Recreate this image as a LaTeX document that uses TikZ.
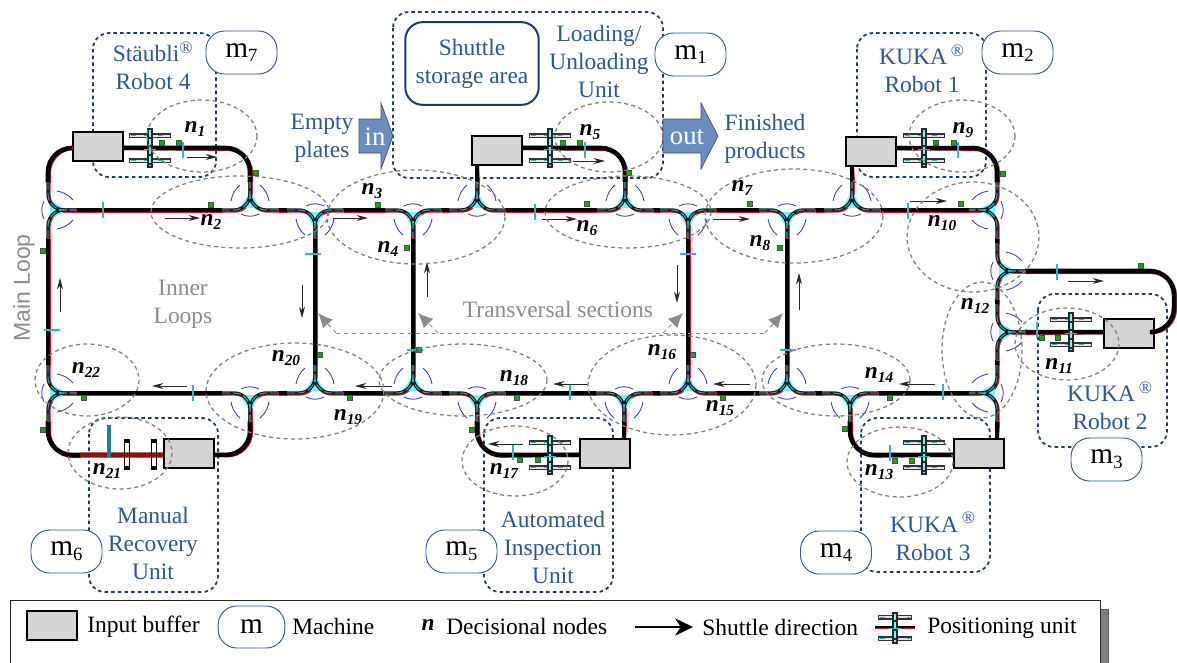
\documentclass[tikz,border=0pt]{standalone}
\usepackage{fontspec}
\setmainfont{Liberation Serif}
\newfontfamily\arialf{Liberation Sans}
\usetikzlibrary{arrows.meta,shapes.geometric}
\definecolor{tblue}{HTML}{2F5597}
\definecolor{dblue}{HTML}{1F3864}
\definecolor{gtext}{HTML}{8C8C8C}
\definecolor{ecol}{HTML}{808080}
\definecolor{arccol}{HTML}{3A3AC8}
\definecolor{greenm}{HTML}{1FA01F}
\definecolor{tealc}{HTML}{2FB5C5}
\definecolor{cyanl}{HTML}{7FF0F5}
\definecolor{railred}{HTML}{C8202A}
\definecolor{darkred}{HTML}{8E0F0F}
\definecolor{bufg}{HTML}{D4D4D4}
\definecolor{flow}{HTML}{6C8EBF}
\newcommand{\txt}{\fontsize{17.6}{21}\selectfont}
\newcommand{\mm}[1]{m\raisebox{-.35ex}{\fontsize{14}{14}\selectfont #1}}
\newcommand{\nn}[1]{{\fontsize{17.5}{17.5}\selectfont\bfseries\itshape n\raisebox{-.4ex}{\fontsize{11.5}{11.5}\selectfont #1}}}
\newcommand{\rg}{\textsuperscript{\fontsize{13}{13}\selectfont ®}}
\tikzset{
 x=0.75pt,y=-0.75pt,
 buf/.style={draw=black,fill=bufg,line width=1.5pt,minimum width=37.5pt,minimum height=21.75pt,inner sep=0pt},
 mach/.style={draw=tblue,fill=white,line width=.7pt,rounded corners=14pt,minimum width=53.25pt,minimum height=32.25pt,inner sep=0pt,font=\fontsize{22}{22}\selectfont},
 unitbox/.style={draw=dblue,line width=1.3pt,dash pattern=on 2.6pt off 2.4pt,rounded corners=12pt},
 ell/.style={draw=ecol,line width=.95pt,dash pattern=on 3pt off 2.5pt},
 blab/.style={text=tblue,align=center,inner sep=0pt,font=\txt},
 glab/.style={text=gtext,align=center,inner sep=0pt,font=\txt},
 klab/.style={text=black,inner sep=0pt,font=\txt},
 nlab/.style={inner sep=0pt,text=black},
 tblack/.style={draw=black,line width=3.4pt,rounded corners=18pt},
 tred/.style={draw=railred,line width=3.2pt,rounded corners=18pt,xshift=.7pt,yshift=-.7pt},
 sdir/.style={draw=black!85,line width=.7pt,-{Stealth[length=8.5pt,width=4.5pt]}},
 trans/.style={draw=gtext,line width=.7pt,dashed,-{Latex[length=11pt,width=10pt]}},
 flowshape/.style={fill=flow,draw=black!70,line width=.5pt},
}
\newcommand{\Tr}[1]{\draw[tred] #1; \draw[tblack] #1;}
\newcommand{\Yj}[3]{%
 \begin{scope}[shift={(#1+0.9,#2+0.9)},rotate=#3]
  \draw[railred,line width=2.6pt,rounded corners=12pt] (-28,0)--(0,0)--(0,28);
  \draw[railred,line width=2.6pt,rounded corners=12pt] (28,0)--(0,0)--(0,28);
 \end{scope}
 \begin{scope}[shift={(#1,#2)},rotate=#3]
  \fill[cyanl] (-10,2)--(10,2)--(0,19)--cycle;
  \draw[black!90,line width=2.5pt,rounded corners=12pt] (-28,0)--(0,0)--(0,28);
  \draw[black!90,line width=2.5pt,rounded corners=12pt] (28,0)--(0,0)--(0,28);
  \draw[tealc,line width=.7pt,dash pattern=on 6pt off 2pt,rounded corners=12pt] (-28,0)--(0,0)--(0,28);
  \draw[tealc,line width=.7pt,dash pattern=on 6pt off 2pt,rounded corners=12pt] (28,0)--(0,0)--(0,28);
  \draw[arccol,line width=.65pt] (-9,-4) .. controls (-3,-7) and (3,-7) .. (9,-4);
  \draw[arccol,line width=.65pt] (-19,9) .. controls (-18,15) and (-15,21) .. (-10,25);
  \draw[arccol,line width=.65pt] (19,9) .. controls (18,15) and (15,21) .. (10,25);
 \end{scope}}
\newcommand{\PU}[4]{% x y half-width half-height
 \foreach \s in {-1,1}{
  \draw[black!80,line width=3.6pt] (#1-#3,#2+\s*12.5)--(#1+#3,#2+\s*12.5);
  \draw[black!10,line width=1.5pt] (#1-#3+1,#2+\s*12.5)--(#1+#3-1,#2+\s*12.5);
  \draw[tealc,line width=.9pt,dash pattern=on 4pt off 6pt] (#1-#3+2,#2+\s*12.5)--(#1+#3-2,#2+\s*12.5);
 }
 \draw[black!85,line width=3.8pt] (#1,#2-#4)--(#1,#2+#4);
 \draw[cyanl,line width=1.5pt,dash pattern=on 5pt off 1.5pt] (#1,#2-#4+2)--(#1,#2+#4-2);
 \draw[tealc,line width=.7pt] (#1-6,#2+1)--(#1+6,#2+1);}
\newcommand{\Gm}[2]{\fill[greenm,draw=black!70,line width=.3pt] (#1-2.5,#2-2.5) rectangle (#1+2.5,#2+2.5);}
\newcommand{\Tv}[2]{\draw[tealc,line width=1.1pt] (#1,#2-8)--(#1,#2+8);}
\newcommand{\Th}[2]{\draw[tealc,line width=1.1pt] (#1-8,#2)--(#1+8,#2);}
\newcommand{\El}[4]{\draw[ell] (#1,#2) ellipse [x radius=#3,y radius=#4];}
\newcommand{\Sd}[4]{\draw[sdir] (#1,#2)--(#3,#4);}
\newcommand{\Ub}[4]{\draw[unitbox] (#1,#2) rectangle (#3,#4);}
\begin{document}
\begin{tikzpicture}
\useasboundingbox (0,0) rectangle (1177,662);
\clip (0,0) rectangle (1177,662);
\fill[white] (0,0) rectangle (1177,662);
% unit boxes
\Ub{93}{33}{216}{177}
\Ub{393}{12}{663}{178}
\Ub{857}{33}{986}{177}
\Ub{1038}{294}{1167}{447}
\Ub{861}{418}{990}{572}
\Ub{484}{418}{613}{592}
\Ub{89}{418}{218}{592}
% flow arrows
\filldraw[flowshape] (359,119)--(381,119)--(381,103)--(393,136)--(381,169)--(381,153)--(359,153)--cycle;
\filldraw[flowshape] (663,119)--(701,119)--(701,103)--(718,136)--(701,169)--(701,153)--(663,153)--cycle;
\node[text=white,inner sep=0pt,font=\fontsize{20}{20}\selectfont] (inlab) at (375,137) {in};
\node[text=white,inner sep=0pt,font=\fontsize{20}{20}\selectfont] (outlab) at (687,137) {out};
% buffers
\node[buf] (b7) at (97.5,146.5) {};
\node[buf] (b1) at (497,150.5) {};
\node[buf] (b2) at (871,151.5) {};
\node[buf] (b3) at (1129,333.5) {};
\node[buf] (b4) at (979,453.5) {};
\node[buf] (b5) at (605,453.5) {};
\node[buf] (b6) at (189,453.5) {};
% tracks: straight runs
\Tr{(76,210)--(222,210)}
\Tr{(278,210)--(287,210)}
\Tr{(343,210)--(385,210)}
\Tr{(441,210)--(449,210)}
\Tr{(505,210)--(597,210)}
\Tr{(653,210)--(660,210)}
\Tr{(716,210)--(759,210)}
\Tr{(815,210)--(824,210)}
\Tr{(880,210)--(969,210)}
\Tr{(76,393)--(222,393)}
\Tr{(278,393)--(287,393)}
\Tr{(343,393)--(385,393)}
\Tr{(441,393)--(449,393)}
\Tr{(505,393)--(596,393)}
\Tr{(652,393)--(660,393)}
\Tr{(716,393)--(759,393)}
\Tr{(815,393)--(822,393)}
\Tr{(878,393)--(969,393)}
\Tr{(48,238)--(48,365)}
\Tr{(315,238)--(315,365)}
\Tr{(413,238)--(413,365)}
\Tr{(688,238)--(688,365)}
\Tr{(787,238)--(787,365)}
\Tr{(997,238)--(997,243)}
\Tr{(997,299)--(997,304)}
\Tr{(997,360)--(997,365)}
% tracks: loops from the buffers
\Tr{([yshift=-1.1pt]b7.east)--(250,148)--(250,182)}
\Tr{([yshift=-1.1pt]b7.west)--(48,148)--(48,182)}
\Tr{([yshift=1.9pt]b1.east)--(625,148)--(625,182)}
\Tr{([xshift=-15pt]b1.south)--(477,182)}
\Tr{([yshift=2.6pt]b2.east)--(997,148)--(997,182)}
\Tr{([xshift=-14.25pt]b2.south)--(852,182)}
\Tr{([yshift=1pt]b3.west)--(1025,332)}
\Tr{([yshift=1pt]b3.east)--(1174,332)--(1174,271)--(1025,271)}
\Tr{([yshift=-1pt]b4.west)--(850,455)--(850,421)}
\Tr{([xshift=13.5pt]b4.north)--(997,421)}
\Tr{([yshift=-1pt]b5.west)--(477,455)--(477,421)}
\Tr{([xshift=14.25pt]b5.north)--(624,421)}
\Tr{([yshift=-1pt]b6.east)--(250,455)--(250,421)}
\Tr{(80,455)--(48,455)--(48,421)}
\draw[darkred,line width=3.8pt] (80,455)--([yshift=-1.1pt]b6.west);
% junctions
\Yj{48}{210}{90}
\Yj{48}{393}{90}
\Yj{250}{210}{180}
\Yj{477}{210}{180}
\Yj{625}{210}{180}
\Yj{852}{210}{180}
\Yj{315}{210}{0}
\Yj{413}{210}{0}
\Yj{688}{210}{0}
\Yj{787}{210}{0}
\Yj{997}{210}{-90}
\Yj{997}{271}{90}
\Yj{997}{332}{90}
\Yj{997}{393}{-90}
\Yj{315}{393}{180}
\Yj{413}{393}{180}
\Yj{688}{393}{180}
\Yj{787}{393}{180}
\Yj{250}{393}{0}
\Yj{477}{393}{0}
\Yj{624}{393}{0}
\Yj{850}{393}{0}
% positioning units
\PU{150}{148}{21}{20}
\PU{550}{148}{21}{20}
\PU{924}{148}{21}{20}
\PU{1071}{332}{21}{20}
\PU{924}{455}{21}{20}
\PU{550}{455}{21}{20}
% manual unit
\draw[tealc!70!black,line width=2.6pt] (109,425)--(109,458);
\foreach \q in {127,154}{
 \draw[black,line width=.8pt] (\q-2.5,441) rectangle (\q+2.5,468);
 \fill[black] (\q-3,439) rectangle (\q+3,443);
 \fill[black] (\q-3,466) rectangle (\q+3,470);
}
% ticks
\Tv{103}{210} \Tv{183}{150} \Tv{585}{150} \Tv{535}{212} \Tv{958}{150} \Tv{908}{211}
\Tv{1057}{272} \Tv{1037}{330} \Tv{943}{392} \Tv{193}{393} \Tv{570}{392} \Tv{890}{453} \Tv{513}{452}
\Th{52}{330} \Th{313}{254} \Th{688}{254} \Th{788}{350} \Th{415}{350}
% green markers
\Gm{162}{143} \Gm{179}{143} \Gm{211}{205} \Gm{256}{173} \Gm{378}{205} \Gm{407}{248}
\Gm{563}{143} \Gm{580}{143} \Gm{587}{204} \Gm{629}{173} \Gm{750}{204}
\Gm{936}{143} \Gm{954}{143} \Gm{780}{248} \Gm{961}{204} \Gm{1003}{174}
\Gm{1141}{266} \Gm{1042}{338} \Gm{1058}{338} \Gm{890}{398} \Gm{895}{461} \Gm{912}{461}
\Gm{845}{429} \Gm{419}{350} \Gm{517}{398} \Gm{472}{430} \Gm{520}{460} \Gm{538}{460}
\Gm{693}{355} \Gm{723}{398} \Gm{84}{398} \Gm{350}{398} \Gm{43}{430} \Gm{320}{355} \Gm{43}{251}
% shuttle directions
\Sd{187}{157}{217}{157} \Sd{165}{218}{200}{218} \Sd{333}{218}{368}{218} \Sd{573}{161}{605}{161}
\Sd{542}{219}{577}{219} \Sd{713}{219}{750}{219} \Sd{910}{201}{947}{201} \Sd{1068}{281}{1104}{281}
\Sd{935}{384}{899}{384} \Sd{750}{384}{713}{384} \Sd{588}{384}{553}{384} \Sd{523}{444}{488}{444}
\Sd{392}{386}{355}{386} \Sd{187}{386}{152}{386}
\Sd{60}{312}{60}{278} \Sd{302}{285}{302}{318} \Sd{427}{297}{427}{262} \Sd{677}{265}{677}{303} \Sd{799}{310}{799}{273}
% transversal sections
\draw[gtext,line width=.7pt,dashed] (336,333)--(765,333);
\draw[trans] (336,333)--(318,313);
\draw[trans] (438,333)--(418,313);
\draw[trans] (663,333)--(683,313);
\draw[trans] (765,333)--(783,313);
% ellipses
\El{202}{136}{55}{36}
\El{240}{212}{89}{36}
\El{416}{217}{89}{47}
\El{609}{137}{54}{35}
\El{628}{212}{83}{36}
\El{794}{216}{89}{47}
\El{962}{136}{53}{36}
\El{973}{237}{66}{55}
\El{982}{350}{40}{68}
\El{1067}{344}{52}{36}
\El{900}{462}{53}{35}
\El{836}{380}{74}{36}
\El{672}{385}{84}{50}
\El{515}{461}{53}{35}
\El{463}{380}{84}{36}
\El{295}{391}{89}{48}
\El{120}{453}{52}{36}
\El{87}{380}{52}{36}
% machines
\node[mach] (m7) at (241.5,52.5) {\mm{7}};
\node[mach] (m1) at (690.5,54.5) {\mm{1}};
\node[mach] (m2) at (1017.5,52.5) {\mm{2}};
\node[mach] (m3) at (1106.5,459.5) {\mm{3}};
\node[mach] (m4) at (836,552.5) {\mm{4}};
\node[mach] (m5) at (461.5,551.5) {\mm{5}};
\node[mach] (m6) at (66.5,551.5) {\mm{6}};
% storage
\node[draw=dblue,line width=1.5pt,rounded corners=13pt,minimum width=100pt,minimum height=62pt,inner sep=0pt,text=tblue,align=center,font=\txt] (store) at (472,63.5) {Shuttle\\storage area};
% labels
\node[blab] (t7) at (153,66) {Stäubli\rg\\Robot 4};
\node[blab] (t1) at (599,61.5) {Loading/\\Unloading\\Unit};
\node[blab] (t2) at (922,69) {KUKA\,\rg\\Robot 1};
\node[blab] (t3) at (1110,406) {KUKA\,\rg\\Robot 2};
\node[blab] (t4) at (933,536.5) {KUKA\,\rg\\Robot 3};
\node[blab] (t5) at (553,547) {Automated\\Inspection\\Unit};
\node[blab] (t6) at (153,543) {Manual\\Recovery\\Unit};
\node[blab] (tin) at (322,138.5) {Empty\\plates};
\node[blab] (tout) at (765,138.5) {Finished\\products};
\node[glab] (tinner) at (183,304.5) {Inner\\Loops};
\node[glab] (ttrans) at (558,309.5) {Transversal sections};
\node[text=gtext,inner sep=0pt,rotate=90,font=\arialf\fontsize{17.25}{21}\selectfont] (tmain) at (24,288) {Main Loop};
% decisional node labels
\node[nlab] (n1) at (195,129) {\nn{1}};
\node[nlab] (n2) at (211,222) {\nn{2}};
\node[nlab] (n3) at (372,191) {\nn{3}};
\node[nlab] (n4) at (388,249) {\nn{4}};
\node[nlab] (n5) at (590,132) {\nn{5}};
\node[nlab] (n6) at (587,228) {\nn{6}};
\node[nlab] (n7) at (742,188) {\nn{7}};
\node[nlab] (n8) at (760,243) {\nn{8}};
\node[nlab] (n9) at (963,130) {\nn{9}};
\node[nlab] (n10) at (942,223) {\nn{10}};
\node[nlab] (n11) at (1059,366) {\nn{11}};
\node[nlab] (n12) at (975,306) {\nn{12}};
\node[nlab] (n13) at (879,472) {\nn{13}};
\node[nlab] (n14) at (879,375) {\nn{14}};
\node[nlab] (n15) at (720,408) {\nn{15}};
\node[nlab] (n16) at (662,352) {\nn{16}};
\node[nlab] (n17) at (504,471) {\nn{17}};
\node[nlab] (n18) at (514,378) {\nn{18}};
\node[nlab] (n19) at (348,417) {\nn{19}};
\node[nlab] (n20) at (286,358) {\nn{20}};
\node[nlab] (n21) at (107,471) {\nn{21}};
\node[nlab] (n22) at (86,370) {\nn{22}};
% legend
\filldraw[fill=black!50,draw=black!65,line width=.6pt] (1100,609) rectangle (1108,675);
\filldraw[fill=white,draw=black!85,line width=.7pt] (10,600) rectangle (1100,675);
\node[buf] (lb) at (52,625.5) {};
\node[klab,anchor=west] (lbt) at (87,627) {Input buffer};
\node[mach,minimum width=50pt,minimum height=31.5pt] (lm) at (251.5,627) {m};
\node[klab,anchor=west] (lmt) at (292,626) {Machine};
\node[nlab,font=\fontsize{17.5}{17.5}\selectfont\bfseries\itshape] (ln) at (428,625) {n};
\node[klab,anchor=west] (lnt) at (446,626) {Decisional nodes};
\coordinate (la) at (635,627);
\coordinate (lc) at (693,627);
\draw[black,line width=1pt,-{Stealth[length=13.5pt,width=13pt]}] (la)--(lc);
\node[klab,anchor=west] (lst) at (702,627) {Shuttle direction};
\draw[railred,line width=1.4pt] (875,628)--(915,628);
\draw[black,line width=1.6pt] (875,627)--(915,627);
\begin{scope}[shift={(895,628)},yscale=.85]
\PU{0}{0}{17}{19}
\end{scope}
\node[klab,anchor=west] (lpt) at (927,628) {Positioning unit};
\end{tikzpicture}
\end{document}
